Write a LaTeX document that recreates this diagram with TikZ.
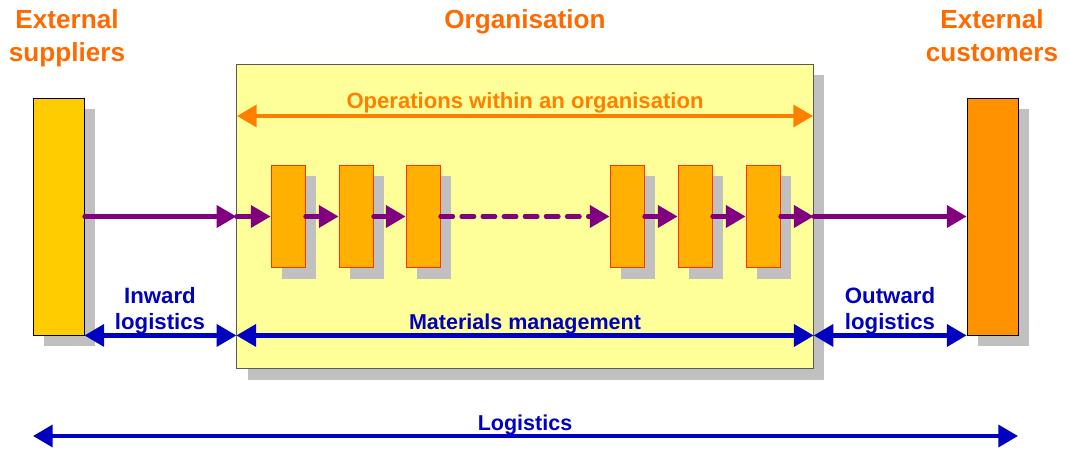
\documentclass[tikz,border=0pt]{standalone}
\usepackage{fontspec}
\setmainfont{Liberation Sans}
\usetikzlibrary{arrows.meta, shadows}
\definecolor{supFill}{RGB}{255, 204, 0}
\definecolor{cusFill}{RGB}{255, 146, 0}
\definecolor{orgFill}{RGB}{255, 255, 153}
\definecolor{stageFill}{RGB}{255, 176, 0}
\definecolor{stageLine}{RGB}{255, 51, 0}
\definecolor{shadowGray}{RGB}{192, 192, 192}
\definecolor{flowPurple}{RGB}{128, 0, 128}
\definecolor{logBlue}{RGB}{0, 0, 192}
\definecolor{opsOrange}{RGB}{255, 128, 0}
\definecolor{titleOrange}{RGB}{255, 106, 0}

\tikzset{
  grayShadow/.style={drop shadow={shadow xshift=0.275cm, shadow yshift=-0.275cm, fill=shadowGray, opacity=1}},
  endBox/.style={draw=black, line width=0.6pt, minimum width=1.275cm, minimum height=5.925cm, grayShadow},
  stageBox/.style={draw=stageLine, fill=stageFill, line width=0.6pt, minimum width=0.85cm, minimum height=2.55cm, grayShadow},
  flowArrow/.style={draw=flowPurple, line width=3pt, line cap=round, -{Triangle[length=14pt, width=15.5pt]}},
  logArrow/.style={draw=logBlue, line width=3pt, {Triangle[length=14pt, width=15.5pt]}-{Triangle[length=14pt, width=15.5pt]}},
  opsArrow/.style={draw=opsOrange, line width=3pt, {Triangle[length=14pt, width=15.5pt]}-{Triangle[length=14pt, width=15.5pt]}},
  titleText/.style={text=titleOrange, font=\fontsize{18.6}{22}\selectfont\bfseries, anchor=base, inner sep=0pt},
  blueText/.style={text=logBlue, font=\fontsize{15.3}{18}\selectfont\bfseries, anchor=base, inner sep=0pt},
  sideText/.style={blueText, font=\fontsize{15.8}{19}\selectfont\bfseries},
}

\begin{document}
\begin{tikzpicture}[x=0.025cm, y=-0.025cm]
    \useasboundingbox (0,0) rectangle (1069,452);

    % end boxes and the organisation
    \node[endBox, fill=supFill] (sup) at (58.5,216.5) {};
    \node[endBox, fill=cusFill] (cus) at (992.5,216.5) {};
    \node[draw=gray!70!black, line width=0.8pt, fill=orgFill, minimum width=14.4cm, minimum height=7.6cm, grayShadow] (org) at (525,216.5) {};

    % stages inside the organisation
    \foreach \i/\x in {1/288, 2/356, 3/423, 4/627, 5/695, 6/763}
        \node[stageBox] (s\i) at (\x,216.5) {};

    % titles
    \node[titleText] (supT1) at (67,29) {External};
    \node[titleText] (supT2) at (67,62) {suppliers};
    \node[titleText] (orgT) at (525,29) {Organisation};
    \node[titleText] (cusT1) at (992,29) {External};
    \node[titleText] (cusT2) at (992,62) {customers};

    % material flow
    \draw[flowArrow] (sup.east) -- (org.west);
    \draw[flowArrow] (org.west) -- (s1.west);
    \draw[flowArrow] (s1.east) -- (s2.west);
    \draw[flowArrow] (s2.east) -- (s3.west);
    \draw[flowArrow, dash pattern=on 9pt off 6pt] (s3.east) -- (s4.west);
    \draw[flowArrow] (s4.east) -- (s5.west);
    \draw[flowArrow] (s5.east) -- (s6.west);
    \draw[flowArrow] (s6.east) -- (org.east);
    \draw[flowArrow] (org.east) -- (cus.west);

    % operations span
    \coordinate (opsL) at (237,116);
    \coordinate (opsR) at (813,116);
    \draw[opsArrow] (opsL) -- (opsR);
    \node[text=opsOrange, font=\fontsize{15.7}{18}\selectfont\bfseries, anchor=base, inner sep=0pt] (opsT) at (525,109) {Operations within an organisation};

    % logistics spans
    \coordinate (inL) at (sup.south east);
    \coordinate (inR) at (inL -| org.west);
    \coordinate (outL) at (inL -| org.east);
    \draw[logArrow] (inL) -- (inR);
    \draw[logArrow] (inR) -- (outL);
    \draw[logArrow] (outL) -- (cus.south west);
    \node[sideText] (inT1) at (160,303) {Inward};
    \node[sideText] (inT2) at (160,329) {logistics};
    \node[blueText] (matT) at (525,329) {Materials management};
    \node[sideText] (outT1) at (890,303) {Outward};
    \node[sideText] (outT2) at (890,329) {logistics};

    \coordinate (logL) at (33,436);
    \coordinate (logR) at (1018,436);
    \draw[logArrow] (logL) -- (logR);
    \node[blueText] (logT) at (525,430) {Logistics};
\end{tikzpicture}
\end{document}
